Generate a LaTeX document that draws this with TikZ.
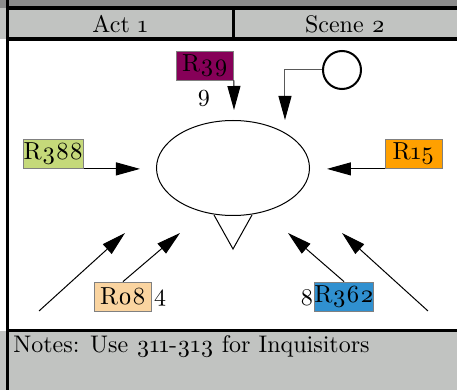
\documentclass[tikz,border=0pt]{standalone}
\usepackage{fontspec}
\setmainfont{lmroman10-regular.otf}[Numbers=OldStyle]
\usetikzlibrary{shapes.geometric,arrows.meta}
\definecolor{topgray}{RGB}{140,140,140}
\definecolor{headgray}{RGB}{193,195,193}
\definecolor{rpurple}{RGB}{134,0,88}
\definecolor{rgreen}{RGB}{197,217,122}
\definecolor{rorange}{RGB}{255,160,0}
\definecolor{rpeach}{RGB}{250,212,160}
\definecolor{rblue}{RGB}{48,144,208}
\tikzset{
  rbox/.style={draw=gray,line width=0.4pt,minimum width=28.5pt,minimum height=14.5pt,inner sep=0pt,font=\fontsize{12.3}{14}\selectfont},
  arr/.style={-{Triangle[length=12pt,width=6.5pt,color=black]},line width=0.5pt},
  frame/.style={line width=1.5pt},
}

\begin{document}
\begin{tikzpicture}[x=0.5pt,y=-0.5pt,font=\fontsize{12}{14}\selectfont]
  \clip (0,0) rectangle (457,390);
  \fill[topgray] (0,0) rectangle (457,8);
  \fill[headgray] (0,8) rectangle (457,39);
  \fill[headgray] (0,331) rectangle (457,390);
  \draw[frame,line width=2pt] (8,8) -- (460,8);
  \draw[frame,line width=2pt] (8,39) -- (460,39);
  \draw[frame] (233.5,8) -- (233.5,39);
  \draw[frame] (8,330.5) -- (460,330.5);
  \draw[frame] (8,0) -- (8,390);
  \node (act) at (120,24) {Act 1};
  \node (scene) at (345,24) {Scene 2};
  \node[anchor=base west,inner sep=0pt] (notes) at (13,353) {Notes: Use 311-313 for Inquisitors};
  \draw[line width=0.5pt] (214,215) -- (233,249) -- (252,215);
  \node[shape=ellipse,draw=black,line width=0.5pt,minimum width=76.5pt,minimum height=47.5pt,inner sep=0pt] (ell) at (233,168) {};
  \node[rbox,fill=rpurple] (r39) at (205,65.5) {R39};
  \node (n9) at (204,98) {9};
  \node[shape=circle,draw=black,line width=1pt,minimum size=19pt,inner sep=0pt] (circ) at (342,70) {};
  \node[rbox,fill=rgreen] (r388) at (53.5,154) {R388};
  \node[rbox,fill=rorange] (r15) at (413.5,154) {R15};
  \node[rbox,fill=rpeach] (r08) at (123,296.5) {R08};
  \node (n4) at (160,298) {4};
  \node[rbox,fill=rblue] (r362) at (344,296.5) {R362};
  \node (n8) at (307,298) {8};
  \coordinate (t39) at (234,110);
  \coordinate (tcirc) at (285,120);
  \coordinate (t388) at (140,168);
  \coordinate (t15) at (327,168);
  \coordinate (sll) at (39,311);
  \coordinate (tll) at (125,233);
  \coordinate (t08) at (180,233);
  \coordinate (t362) at (288,233);
  \coordinate (srr) at (428,311);
  \coordinate (trr) at (342,233);
  \draw[arr] (r39.south east) -- (t39);
  \draw[arr,draw=black!65] (circ.west) -| (tcirc);
  \draw[arr] (r388.south east) -- (t388 |- r388.south east);
  \draw[arr] (r15.south west) -- (t15 |- r15.south west);
  \draw[arr] (sll) -- (tll);
  \draw[arr] (r08.north) -- (t08);
  \draw[arr] (r362.north) -- (t362);
  \draw[arr] (srr) -- (trr);
\end{tikzpicture}
\end{document}
